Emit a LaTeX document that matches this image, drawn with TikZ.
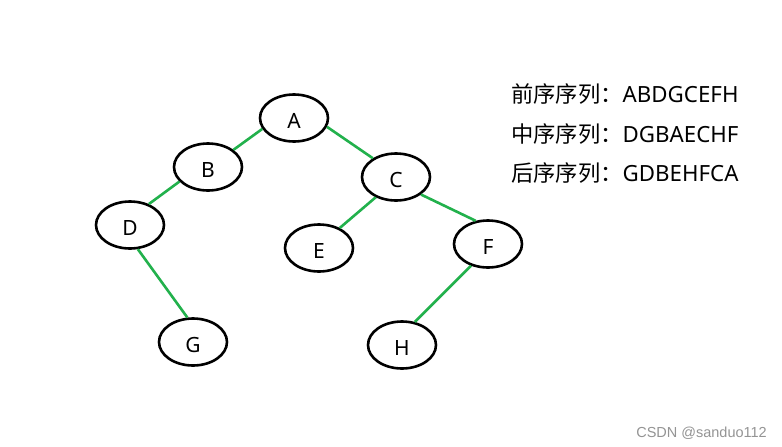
\documentclass[tikz,border=0pt]{standalone}
\usepackage{fontspec}
\setmainfont{Noto Sans}
\newfontfamily\cjk{Noto Sans CJK SC}
\newfontfamily\wmfont{Liberation Sans}
\usetikzlibrary{shapes.geometric}
\definecolor{edgegreen}{HTML}{22B14C}
\begin{document}
\begin{tikzpicture}[x=1pt,y=-1pt,
  treenode/.style={draw=black, line width=2.6pt, ellipse, inner sep=0pt,
    minimum width=68pt, minimum height=47pt, font=\fontsize{21}{21}\selectfont,
    text height=20.5pt, text depth=0pt},
  edge/.style={draw=edgegreen, line width=2.6pt},
  seqtext/.style={anchor=base west, inner sep=0pt, font=\fontsize{22.3}{23}\selectfont}]
\useasboundingbox[fill=white] (0,0) rectangle (782,447);
\node[treenode] (A) at (294,118) {A};
\node[treenode] (B) at (208,167) {B};
\node[treenode] (C) at (396,177) {C};
\node[treenode] (D) at (130,225) {D};
\node[treenode] (E) at (319,248) {E};
\node[treenode] (F) at (488,244) {F};
\node[treenode] (G) at (193,342) {G};
\node[treenode] (H) at (402,345) {H};
\draw[edge] (A.199) -- (B.34);
\draw[edge] (A.-15) -- (C.141);
\draw[edge] (B.207) -- (D.48);
\draw[edge] (D.-72) -- (G.103);
\draw[edge] (C.225) -- (E.44);
\draw[edge] (C.-35) -- (F.118);
\draw[edge] (F.232) -- (H.61);
\node[seqtext] (pre) at (511,102) {{\cjk 前序序列：}ABDGCEFH};
\node[seqtext] (in) at (511,142) {{\cjk 中序序列：}DGBAECHF};
\node[seqtext] (post) at (511,181) {{\cjk 后序序列：}GDBEHFCA};
\node[anchor=base east, inner sep=0pt, text=black!42, font=\wmfont\fontsize{14.5}{15}\selectfont] (wm) at (767,437) {CSDN @sanduo112};
\end{tikzpicture}
\end{document}
